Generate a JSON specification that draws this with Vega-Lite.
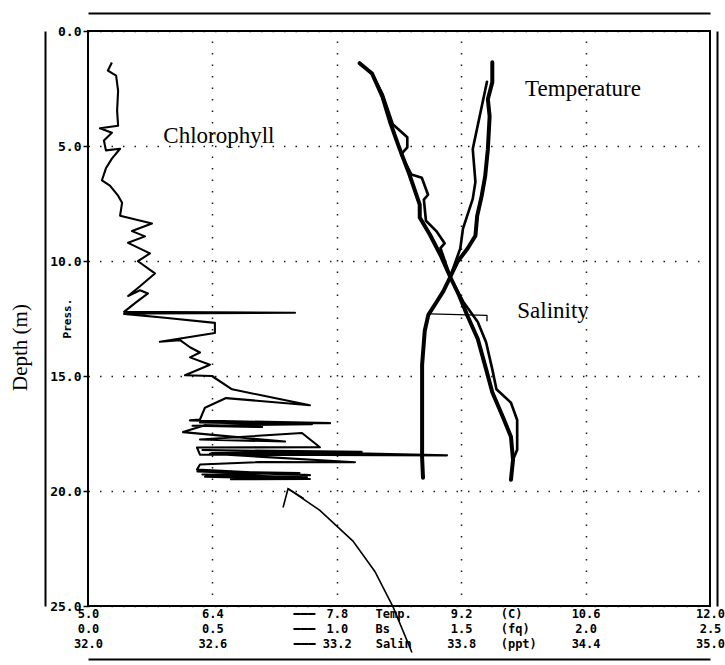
{
  "$schema": "https://vega.github.io/schema/vega-lite/v6.json",
  "autosize": "none",
  "width": 622,
  "height": 575,
  "padding": {"left": 88, "top": 31, "right": 15, "bottom": 59},
  "background": "white",
  "config": {"view": {"stroke": "black", "strokeWidth": 2}},
  "datasets": {
    "chl": [
      {"i":1,"chl":0.096,"depth":1.37},{"i":2,"chl":0.080,"depth":1.72},{"i":3,"chl":0.113,"depth":1.94},
      {"i":4,"chl":0.121,"depth":2.60},{"i":5,"chl":0.117,"depth":3.46},{"i":6,"chl":0.121,"depth":4.12},
      {"i":7,"chl":0.048,"depth":4.23},{"i":8,"chl":0.096,"depth":4.42},{"i":9,"chl":0.064,"depth":4.76},
      {"i":10,"chl":0.072,"depth":5.19},{"i":11,"chl":0.129,"depth":5.12},{"i":12,"chl":0.096,"depth":5.55},
      {"i":13,"chl":0.072,"depth":5.97},{"i":14,"chl":0.056,"depth":6.49},{"i":15,"chl":0.088,"depth":6.72},
      {"i":16,"chl":0.121,"depth":7.16},{"i":17,"chl":0.137,"depth":7.47},{"i":18,"chl":0.129,"depth":8.03},
      {"i":19,"chl":0.257,"depth":8.37},{"i":20,"chl":0.177,"depth":8.70},{"i":21,"chl":0.229,"depth":8.93},
      {"i":22,"chl":0.161,"depth":9.21},{"i":23,"chl":0.249,"depth":9.67},{"i":24,"chl":0.201,"depth":10.01},
      {"i":25,"chl":0.269,"depth":10.54},{"i":26,"chl":0.209,"depth":11.10},{"i":27,"chl":0.161,"depth":11.52},
      {"i":28,"chl":0.209,"depth":11.27},{"i":29,"chl":0.241,"depth":11.41},{"i":30,"chl":0.189,"depth":11.83},
      {"i":31,"chl":0.145,"depth":12.21},{"i":32,"chl":0.832,"depth":12.25},{"i":33,"chl":0.249,"depth":12.28},
      {"i":34,"chl":0.145,"depth":12.30},{"i":35,"chl":0.309,"depth":12.47},{"i":36,"chl":0.510,"depth":12.69},
      {"i":37,"chl":0.510,"depth":13.13},{"i":38,"chl":0.289,"depth":13.51},{"i":39,"chl":0.370,"depth":13.44},
      {"i":40,"chl":0.410,"depth":13.75},{"i":41,"chl":0.450,"depth":13.98},{"i":42,"chl":0.410,"depth":14.19},
      {"i":43,"chl":0.490,"depth":14.51},{"i":44,"chl":0.390,"depth":14.97},{"i":45,"chl":0.498,"depth":15.00},
      {"i":46,"chl":0.579,"depth":15.58},{"i":47,"chl":0.711,"depth":15.87},{"i":48,"chl":0.892,"depth":16.27},
      {"i":49,"chl":0.555,"depth":15.96},{"i":50,"chl":0.470,"depth":16.38},{"i":51,"chl":0.450,"depth":16.89},
      {"i":52,"chl":0.410,"depth":16.93},{"i":53,"chl":0.973,"depth":17.05},{"i":54,"chl":0.450,"depth":17.02},
      {"i":55,"chl":0.900,"depth":17.10},{"i":56,"chl":0.420,"depth":17.16},{"i":57,"chl":0.700,"depth":17.22},
      {"i":58,"chl":0.470,"depth":17.14},{"i":59,"chl":0.382,"depth":17.44},{"i":60,"chl":0.792,"depth":17.85},
      {"i":61,"chl":0.450,"depth":17.76},{"i":62,"chl":0.860,"depth":17.48},{"i":63,"chl":0.932,"depth":18.10},
      {"i":64,"chl":0.438,"depth":18.11},{"i":65,"chl":0.450,"depth":18.42},{"i":66,"chl":1.443,"depth":18.45},
      {"i":67,"chl":0.460,"depth":18.22},{"i":68,"chl":1.100,"depth":18.30},{"i":69,"chl":0.500,"depth":18.35},
      {"i":70,"chl":0.950,"depth":18.40},{"i":71,"chl":0.490,"depth":18.38},{"i":72,"chl":1.073,"depth":18.75},
      {"i":73,"chl":0.691,"depth":18.74},{"i":74,"chl":0.450,"depth":18.85},{"i":75,"chl":0.438,"depth":19.07},
      {"i":76,"chl":0.892,"depth":19.31},{"i":77,"chl":0.440,"depth":19.15},{"i":78,"chl":0.850,"depth":19.22},
      {"i":79,"chl":0.460,"depth":19.28},{"i":80,"chl":0.880,"depth":19.40},{"i":81,"chl":0.470,"depth":19.38},
      {"i":82,"chl":0.892,"depth":19.48},{"i":83,"chl":0.571,"depth":19.49}
    ],
    "sal": [
      {"cast":"down","i":1,"sal":33.31,"depth":1.40},{"cast":"down","i":2,"sal":33.37,"depth":1.85},
      {"cast":"down","i":3,"sal":33.42,"depth":2.86},{"cast":"down","i":4,"sal":33.46,"depth":4.04},
      {"cast":"down","i":5,"sal":33.50,"depth":5.05},{"cast":"down","i":6,"sal":33.55,"depth":6.23},
      {"cast":"down","i":7,"sal":33.60,"depth":7.55},{"cast":"down","i":8,"sal":33.60,"depth":8.11},
      {"cast":"down","i":9,"sal":33.65,"depth":8.87},{"cast":"down","i":10,"sal":33.70,"depth":9.74},
      {"cast":"down","i":11,"sal":33.75,"depth":10.75},{"cast":"down","i":12,"sal":33.79,"depth":11.50},
      {"cast":"down","i":13,"sal":33.83,"depth":12.38},{"cast":"down","i":14,"sal":33.88,"depth":13.39},
      {"cast":"down","i":15,"sal":33.92,"depth":14.70},{"cast":"down","i":16,"sal":33.95,"depth":15.71},
      {"cast":"down","i":17,"sal":34.00,"depth":16.76},{"cast":"down","i":18,"sal":34.04,"depth":17.64},
      {"cast":"down","i":19,"sal":34.05,"depth":18.64},{"cast":"down","i":20,"sal":34.04,"depth":19.51},
      {"cast":"up","i":1,"sal":33.37,"depth":1.85},{"cast":"up","i":2,"sal":33.42,"depth":2.73},
      {"cast":"up","i":3,"sal":33.47,"depth":4.05},{"cast":"up","i":4,"sal":33.54,"depth":4.62},
      {"cast":"up","i":5,"sal":33.54,"depth":5.06},{"cast":"up","i":6,"sal":33.51,"depth":5.36},
      {"cast":"up","i":7,"sal":33.56,"depth":6.24},{"cast":"up","i":8,"sal":33.61,"depth":6.38},
      {"cast":"up","i":9,"sal":33.64,"depth":7.12},{"cast":"up","i":10,"sal":33.62,"depth":7.33},
      {"cast":"up","i":11,"sal":33.63,"depth":8.25},{"cast":"up","i":12,"sal":33.68,"depth":8.70},
      {"cast":"up","i":13,"sal":33.72,"depth":9.23},{"cast":"up","i":14,"sal":33.70,"depth":9.44},
      {"cast":"up","i":15,"sal":33.75,"depth":10.75},{"cast":"up","i":16,"sal":33.81,"depth":11.77},
      {"cast":"up","i":17,"sal":33.88,"depth":12.65},{"cast":"up","i":18,"sal":33.92,"depth":13.53},
      {"cast":"up","i":19,"sal":33.95,"depth":14.71},{"cast":"up","i":20,"sal":33.97,"depth":15.58},
      {"cast":"up","i":21,"sal":34.04,"depth":16.16},{"cast":"up","i":22,"sal":34.07,"depth":16.91},
      {"cast":"up","i":23,"sal":34.07,"depth":18.21},{"cast":"up","i":24,"sal":34.05,"depth":18.64}
    ],
    "temp": [
      {"cast":"down","i":1,"temp":9.55,"depth":1.36},{"cast":"down","i":2,"temp":9.55,"depth":2.23},
      {"cast":"down","i":3,"temp":9.50,"depth":2.97},{"cast":"down","i":4,"temp":9.52,"depth":3.71},
      {"cast":"down","i":5,"temp":9.50,"depth":5.14},{"cast":"down","i":6,"temp":9.47,"depth":6.31},
      {"cast":"down","i":7,"temp":9.43,"depth":7.18},{"cast":"down","i":8,"temp":9.38,"depth":8.04},
      {"cast":"down","i":9,"temp":9.36,"depth":8.90},{"cast":"down","i":10,"temp":9.27,"depth":9.47},
      {"cast":"down","i":11,"temp":9.16,"depth":10.02},{"cast":"down","i":12,"temp":9.07,"depth":10.75},
      {"cast":"down","i":13,"temp":9.00,"depth":11.31},{"cast":"down","i":14,"temp":8.93,"depth":11.74},
      {"cast":"down","i":15,"temp":8.83,"depth":12.34},{"cast":"down","i":16,"temp":8.79,"depth":13.03},
      {"cast":"down","i":17,"temp":8.76,"depth":14.51},{"cast":"down","i":18,"temp":8.76,"depth":15.82},
      {"cast":"down","i":19,"temp":8.76,"depth":16.69},{"cast":"down","i":20,"temp":8.76,"depth":17.38},
      {"cast":"down","i":21,"temp":8.76,"depth":18.55},{"cast":"down","i":22,"temp":8.77,"depth":19.42},
      {"cast":"up","i":1,"temp":9.49,"depth":2.21},{"cast":"up","i":2,"temp":9.33,"depth":5.13},
      {"cast":"up","i":3,"temp":9.36,"depth":6.56},{"cast":"up","i":4,"temp":9.33,"depth":7.30},
      {"cast":"up","i":5,"temp":9.22,"depth":8.59},{"cast":"up","i":6,"temp":9.19,"depth":9.45},
      {"cast":"up","i":7,"temp":9.07,"depth":10.75},
      {"cast":"spike","i":1,"temp":8.85,"depth":12.30},{"cast":"spike","i":2,"temp":9.49,"depth":12.36},
      {"cast":"spike","i":3,"temp":9.49,"depth":12.60}
    ],
    "arrow": [
      {"seg":"shaft","i":1,"chl":0.804,"depth":19.90},{"seg":"shaft","i":2,"chl":0.932,"depth":20.84},
      {"seg":"shaft","i":3,"chl":1.065,"depth":22.18},{"seg":"shaft","i":4,"chl":1.153,"depth":23.50},
      {"seg":"shaft","i":5,"chl":1.226,"depth":25.04},{"seg":"shaft","i":6,"chl":1.302,"depth":27.02},
      {"seg":"head","i":1,"chl":0.784,"depth":20.72},{"seg":"head","i":2,"chl":0.804,"depth":19.90},
      {"seg":"head","i":3,"chl":0.868,"depth":20.33}
    ]
  },
  "resolve": {
    "scale": {"x": "independent", "y": "independent"},
    "axis": {"x": "independent", "y": "independent"}
  },
  "layer": [
    {
      "data": {"name": "chl"},
      "mark": {"type": "line", "color": "black", "strokeWidth": 2.1, "clip": false, "strokeJoin": "round"},
      "encoding": {
        "x": {"field": "chl", "type": "quantitative",
          "scale": {"domain": [0, 2.5], "nice": false, "zero": false},
          "axis": {"orient": "bottom", "offset": 15, "title": null,
            "values": [0, 0.5, 0.868, 1.0, 1.154, 1.5, 1.657, 2.0, 2.5],
            "labelExpr": "datum.value == 0.868 ? '━━━' : datum.value == 1.154 ? 'Bs' : datum.value == 1.657 ? '(fq)' : format(datum.value, '.1f')",
            "labelAlign": {"condition": {"test": "datum.value == 1.154 || datum.value == 1.657", "value": "left"}, "value": "center"},
            "labelFont": "DejaVu Sans Mono", "labelFontSize": 12, "labelPadding": 2,
            "labelFontWeight": "bold", "labelColor": "black",
            "ticks": false, "domain": false, "grid": false, "labelFlush": false, "labelOverlap": false}},
        "y": {"field": "depth", "type": "quantitative",
          "scale": {"domain": [0, 25], "reverse": true, "nice": false, "zero": false},
          "axis": {"orient": "left", "values": [0, 5, 10, 15, 20, 25], "format": ".1f",
            "labelFont": "DejaVu Sans Mono", "labelFontWeight": "bold", "labelFontSize": 13, "labelColor": "black",
            "labelPadding": 2, "tickSize": 5, "tickColor": "black", "tickWidth": 1.5, "domain": false,
            "grid": true, "gridColor": "black", "gridDash": [1.5, 10], "gridWidth": 1.5, "gridOpacity": 0.9,
            "title": "Depth (m)", "titleFont": "Liberation Serif", "titleFontSize": 21, "titleFontWeight": "normal",
            "titleColor": "black", "titleX": -68, "titleY": 316, "titleAngle": -90, "titleAlign": "center", "titleBaseline": "middle"}},
        "order": {"field": "i", "type": "quantitative"}
      }
    },
    {
      "data": {"name": "sal"},
      "mark": {"type": "line", "color": "black", "clip": false, "strokeJoin": "round", "strokeCap": "round"},
      "encoding": {
        "x": {"field": "sal", "type": "quantitative",
          "scale": {"domain": [32, 35], "nice": false, "zero": false},
          "axis": {"orient": "bottom", "offset": 30, "title": null,
            "values": [32, 32.6, 33.042, 33.2, 33.385, 33.8, 33.988, 34.4, 35],
            "labelExpr": "datum.value == 33.042 ? '━━━' : datum.value == 33.385 ? 'Salin' : datum.value == 33.988 ? '(ppt)' : format(datum.value, '.1f')",
            "labelAlign": {"condition": {"test": "datum.value == 33.385 || datum.value == 33.988", "value": "left"}, "value": "center"},
            "labelFont": "DejaVu Sans Mono", "labelFontSize": 12, "labelPadding": 2,
            "labelFontWeight": "bold", "labelColor": "black",
            "ticks": false, "domain": false, "grid": false, "labelFlush": false, "labelOverlap": false}},
        "y": {"field": "depth", "type": "quantitative",
          "scale": {"domain": [0, 25], "reverse": true, "nice": false, "zero": false},
          "axis": {"orient": "left", "labels": false, "ticks": false, "domain": false, "grid": false,
            "title": "Press.", "titleFont": "DejaVu Sans Mono", "titleFontSize": 11, "titleFontWeight": "bold",
            "titleColor": "black", "titleX": -21, "titleY": 287, "titleAngle": -90, "titleAlign": "center", "titleBaseline": "middle"}},
        "detail": {"field": "cast", "type": "nominal"},
        "strokeWidth": {"field": "cast", "type": "nominal", "scale": {"domain": ["down", "up"], "range": [4, 1.3]}, "legend": null},
        "order": {"field": "i", "type": "quantitative"}
      }
    },
    {
      "data": {"name": "temp"},
      "mark": {"type": "line", "color": "black", "clip": false, "strokeJoin": "round", "strokeCap": "round"},
      "encoding": {
        "x": {"field": "temp", "type": "quantitative",
          "scale": {"domain": [5, 12], "nice": false, "zero": false},
          "axis": {"orient": "bottom", "offset": 0, "title": null,
            "values": [5, 6.4, 7.43, 7.8, 8.23, 9.2, 9.64, 10.6, 12],
            "labelExpr": "datum.value == 7.43 ? '━━━' : datum.value == 8.23 ? 'Temp.' : datum.value == 9.64 ? '(C)' : format(datum.value, '.1f')",
            "labelAlign": {"condition": {"test": "datum.value == 8.23 || datum.value == 9.64", "value": "left"}, "value": "center"},
            "labelFont": "DejaVu Sans Mono", "labelFontSize": 12, "labelPadding": 2,
            "labelFontWeight": "bold", "labelColor": "black",
            "ticks": false, "domain": false, "grid": false, "labelFlush": false, "labelOverlap": false}},
        "y": {"field": "depth", "type": "quantitative",
          "scale": {"domain": [0, 25], "reverse": true, "nice": false, "zero": false},
          "axis": {"orient": "left", "offset": 43, "labels": false, "ticks": false, "grid": false, "title": null,
            "domain": true, "domainColor": "black", "domainWidth": 2}},
        "detail": {"field": "cast", "type": "nominal"},
        "strokeWidth": {"field": "cast", "type": "nominal", "scale": {"domain": ["down", "up", "spike"], "range": [2.6, 1.2, 1.3]}, "legend": null},
        "order": {"field": "i", "type": "quantitative"}
      }
    },
    {
      "data": {"name": "arrow"},
      "mark": {"type": "line", "color": "black", "strokeWidth": 1.6, "clip": false},
      "encoding": {
        "x": {"field": "chl", "type": "quantitative",
          "scale": {"domain": [0, 2.5], "nice": false, "zero": false},
          "axis": {"orient": "bottom", "values": [0.5, 1.0, 1.5, 2.0], "labels": false, "ticks": false, "domain": false,
            "title": null, "grid": true, "gridColor": "black", "gridDash": [1.5, 10], "gridWidth": 1.5, "gridOpacity": 0.9}},
        "y": {"field": "depth", "type": "quantitative",
          "scale": {"domain": [0, 25], "reverse": true, "nice": false, "zero": false},
          "axis": {"orient": "right", "offset": 7, "labels": false, "ticks": false, "grid": false, "title": null,
            "domain": true, "domainColor": "black", "domainWidth": 2}},
        "detail": {"field": "seg", "type": "nominal"},
        "order": {"field": "i", "type": "quantitative"}
      }
    },
    {
      "data": {"values": [{"label": "Chlorophyll", "chl": 0.526, "depth": 4.87}]},
      "mark": {"type": "text", "font": "Liberation Serif", "fontSize": 23, "align": "center", "baseline": "alphabetic", "color": "black", "clip": false},
      "encoding": {
        "x": {"field": "chl", "type": "quantitative", "scale": {"domain": [0, 2.5], "nice": false, "zero": false},
          "axis": {"orient": "top", "offset": 18, "labels": false, "ticks": false, "grid": false, "title": null,
            "domain": true, "domainColor": "black", "domainWidth": 2}},
        "y": {"field": "depth", "type": "quantitative", "scale": {"domain": [0, 25], "reverse": true, "nice": false, "zero": false}, "axis": null},
        "text": {"field": "label"}
      }
    },
    {
      "data": {"values": [{"label": "Temperature", "temp": 10.571, "depth": 2.84}]},
      "mark": {"type": "text", "font": "Liberation Serif", "fontSize": 23, "align": "center", "baseline": "alphabetic", "color": "black", "clip": false},
      "encoding": {
        "x": {"field": "temp", "type": "quantitative", "scale": {"domain": [5, 12], "nice": false, "zero": false},
          "axis": {"orient": "bottom", "offset": 53, "labels": false, "ticks": false, "grid": false, "title": null,
            "domain": true, "domainColor": "black", "domainWidth": 2}},
        "y": {"field": "depth", "type": "quantitative", "scale": {"domain": [0, 25], "reverse": true, "nice": false, "zero": false}, "axis": null},
        "text": {"field": "label"}
      }
    },
    {
      "data": {"values": [{"label": "Salinity", "sal": 34.243, "depth": 12.47}]},
      "mark": {"type": "text", "font": "Liberation Serif", "fontSize": 23, "align": "center", "baseline": "alphabetic", "color": "black", "clip": false},
      "encoding": {
        "x": {"field": "sal", "type": "quantitative", "scale": {"domain": [32, 35], "nice": false, "zero": false}, "axis": null},
        "y": {"field": "depth", "type": "quantitative", "scale": {"domain": [0, 25], "reverse": true, "nice": false, "zero": false}, "axis": null},
        "text": {"field": "label"}
      }
    }
  ]
}
